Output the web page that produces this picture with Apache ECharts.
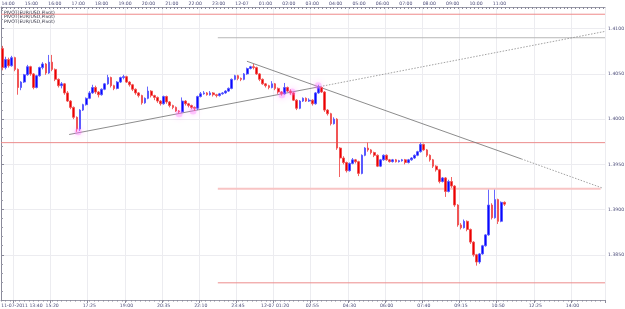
<!DOCTYPE html>
<html>
<head>
<meta charset="utf-8">
<script src="https://cdn.jsdelivr.net/npm/echarts@6/dist/echarts.min.js"></script>
<style>
html,body{margin:0;padding:0;background:#fff;}
#chart{width:625px;height:309px;}
</style>
</head>
<body>
<div id="chart"></div>
<script>
// EUR/USD M5 — 11-07-2011 13:40 .. 12-07 11:00, pivots + trendlines

var SLOTS = 195;   // category slots across the plot (empty ones on the right)

// bottom time labels, one every 12 slots starting at slot 4
var bottomLabels = ['11-07-2011 13:40','15:20','17:25','19:00','20:35','22:10','23:45',
  '12-07 01:20','02:55','04:30','06:00','07:40','09:15','10:50','12:25','14:00'];

// top hour scale (hours from 11-07 00:00)
var topHours = [14,15,16,17,18,19,20,21,22,23,24,25,26,27,28,29,30,31,32,33,34,35];

// [open, close, low, high]
var candles = [
  [1.4078,1.4057,1.4054,1.4081],[1.4057,1.4066,1.4055,1.4069],[1.4066,1.4059,1.4057,1.4068],[1.4059,1.4068,1.4058,1.4070],
  [1.4068,1.4055,1.4053,1.4069],[1.4055,1.4035,1.4027,1.4056],[1.4035,1.4041,1.4032,1.4042],[1.4041,1.4049,1.4040,1.4050],
  [1.4049,1.4058,1.4048,1.4060],[1.4058,1.4050,1.4048,1.4059],[1.4050,1.4035,1.4033,1.4051],[1.4035,1.4048,1.4034,1.4049],
  [1.4048,1.4057,1.4047,1.4058],[1.4057,1.4061,1.4055,1.4063],[1.4061,1.4051,1.4049,1.4062],[1.4051,1.4063,1.4050,1.4071],
  [1.4063,1.4055,1.4053,1.4071],[1.4055,1.4044,1.4042,1.4056],[1.4044,1.4037,1.4035,1.4045],[1.4037,1.4039,1.4034,1.4041],
  [1.4039,1.4029,1.4027,1.4040],[1.4029,1.4020,1.4019,1.4031],[1.4020,1.4013,1.4011,1.4021],[1.4013,1.4002,1.4000,1.4014],
  [1.4002,1.3989,1.3986,1.4003],[1.3989,1.4010,1.3987,1.4011],[1.4010,1.4016,1.4009,1.4017],[1.4016,1.4023,1.4015,1.4024],
  [1.4023,1.4029,1.4022,1.4031],[1.4029,1.4035,1.4028,1.4038],[1.4035,1.4030,1.4028,1.4037],[1.4030,1.4027,1.4024,1.4031],
  [1.4027,1.4033,1.4026,1.4034],[1.4033,1.4039,1.4032,1.4040],[1.4039,1.4046,1.4038,1.4049],[1.4046,1.4037,1.4035,1.4047],
  [1.4037,1.4034,1.4032,1.4038],[1.4034,1.4041,1.4033,1.4042],[1.4041,1.4046,1.4040,1.4047],[1.4046,1.4047,1.4044,1.4049],
  [1.4047,1.4041,1.4040,1.4048],[1.4041,1.4038,1.4036,1.4042],[1.4038,1.4033,1.4031,1.4039],[1.4033,1.4029,1.4027,1.4034],
  [1.4029,1.4026,1.4024,1.4030],[1.4026,1.4018,1.4016,1.4027],[1.4018,1.4023,1.4017,1.4024],[1.4023,1.4031,1.4022,1.4036],
  [1.4031,1.4026,1.4024,1.4032],[1.4026,1.4024,1.4021,1.4027],[1.4024,1.4020,1.4018,1.4025],[1.4020,1.4017,1.4015,1.4021],
  [1.4017,1.4025,1.4016,1.4026],[1.4025,1.4019,1.4017,1.4026],[1.4019,1.4015,1.4013,1.4020],[1.4015,1.4013,1.4011,1.4016],
  [1.4013,1.4009,1.4008,1.4014],[1.4009,1.4008,1.4006,1.4010],[1.4008,1.4020,1.4007,1.4024],[1.4020,1.4017,1.4015,1.4021],
  [1.4017,1.4015,1.4013,1.4018],[1.4015,1.4013,1.4011,1.4016],[1.4013,1.4012,1.4009,1.4014],[1.4012,1.4025,1.4010,1.4026],
  [1.4025,1.4028,1.4024,1.4030],[1.4028,1.4029,1.4027,1.4031],[1.4029,1.4027,1.4026,1.4030],[1.4027,1.4029,1.4026,1.4031],
  [1.4029,1.4027,1.4025,1.4030],[1.4027,1.4026,1.4024,1.4028],[1.4026,1.4028,1.4025,1.4029],[1.4028,1.4029,1.4027,1.4030],
  [1.4029,1.4031,1.4028,1.4032],[1.4031,1.4034,1.4030,1.4035],[1.4034,1.4044,1.4033,1.4045],[1.4044,1.4048,1.4043,1.4049],
  [1.4048,1.4045,1.4043,1.4049],[1.4045,1.4044,1.4042,1.4046],[1.4044,1.4050,1.4043,1.4051],[1.4050,1.4056,1.4049,1.4057],
  [1.4056,1.4058,1.4055,1.4059],[1.4058,1.4057,1.4055,1.4061],[1.4057,1.4050,1.4049,1.4058],[1.4050,1.4044,1.4042,1.4051],
  [1.4044,1.4039,1.4038,1.4045],[1.4039,1.4037,1.4035,1.4040],[1.4037,1.4035,1.4033,1.4038],[1.4035,1.4039,1.4034,1.4042],
  [1.4039,1.4034,1.4032,1.4040],[1.4034,1.4030,1.4028,1.4035],[1.4030,1.4028,1.4026,1.4031],[1.4028,1.4035,1.4027,1.4040],
  [1.4035,1.4031,1.4030,1.4036],[1.4031,1.4029,1.4027,1.4033],[1.4029,1.4021,1.4020,1.4030],[1.4021,1.4012,1.4010,1.4022],
  [1.4012,1.4020,1.4011,1.4021],[1.4020,1.4023,1.4019,1.4024],[1.4023,1.4020,1.4019,1.4024],[1.4020,1.4021,1.4019,1.4023],
  [1.4021,1.4017,1.4015,1.4022],[1.4017,1.4029,1.4016,1.4030],[1.4029,1.4035,1.4028,1.4038],[1.4035,1.4030,1.4029,1.4036],
  [1.4030,1.4010,1.4008,1.4031],[1.4010,1.4006,1.4004,1.4011],[1.4006,1.3995,1.3993,1.4007],[1.3995,1.4000,1.3994,1.4002],
  [1.4000,1.3968,1.3966,1.4001],[1.3968,1.3957,1.3936,1.3969],[1.3957,1.3952,1.3950,1.3959],[1.3952,1.3943,1.3941,1.3953],
  [1.3943,1.3951,1.3942,1.3952],[1.3951,1.3955,1.3950,1.3957],[1.3955,1.3953,1.3951,1.3956],[1.3953,1.3940,1.3937,1.3954],
  [1.3940,1.3960,1.3939,1.3961],[1.3960,1.3968,1.3959,1.3969],[1.3968,1.3966,1.3964,1.3974],[1.3966,1.3963,1.3961,1.3967],
  [1.3963,1.3960,1.3958,1.3964],[1.3960,1.3948,1.3947,1.3961],[1.3948,1.3955,1.3947,1.3956],[1.3955,1.3960,1.3954,1.3961],
  [1.3960,1.3955,1.3954,1.3961],[1.3955,1.3953,1.3952,1.3956],[1.3953,1.3955,1.3952,1.3956],[1.3955,1.3953,1.3952,1.3956],
  [1.3953,1.3954,1.3952,1.3955],[1.3954,1.3955,1.3953,1.3956],[1.3955,1.3952,1.3950,1.3956],[1.3952,1.3955,1.3951,1.3956],
  [1.3955,1.3957,1.3954,1.3958],[1.3957,1.3960,1.3956,1.3961],[1.3960,1.3964,1.3959,1.3965],[1.3964,1.3972,1.3963,1.3974],
  [1.3972,1.3966,1.3965,1.3973],[1.3966,1.3960,1.3958,1.3967],[1.3960,1.3955,1.3953,1.3961],[1.3955,1.3948,1.3946,1.3956],
  [1.3948,1.3944,1.3942,1.3949],[1.3944,1.3931,1.3929,1.3945],[1.3931,1.3935,1.3930,1.3936],[1.3935,1.3920,1.3914,1.3936],
  [1.3920,1.3931,1.3919,1.3933],[1.3931,1.3926,1.3924,1.3936],[1.3926,1.3905,1.3903,1.3927],[1.3905,1.3883,1.3881,1.3906],
  [1.3883,1.3880,1.3878,1.3885],[1.3880,1.3887,1.3879,1.3889],[1.3887,1.3878,1.3876,1.3888],[1.3878,1.3864,1.3862,1.3879],
  [1.3864,1.3850,1.3848,1.3865],[1.3850,1.3842,1.3838,1.3851],[1.3842,1.3851,1.3840,1.3852],[1.3851,1.3860,1.3850,1.3861],
  [1.3860,1.3872,1.3859,1.3873],[1.3872,1.3905,1.3871,1.3922],[1.3905,1.3891,1.3889,1.3907],[1.3891,1.3911,1.3890,1.3922],
  [1.3911,1.3887,1.3884,1.3912],[1.3887,1.3908,1.3886,1.3909],[1.3908,1.3906,1.3904,1.3909]
];

// pivot levels and the slot range each one covers
var levels    = [1.4116, 1.4090, 1.3974, 1.3923, 1.3819];
var levelFrom = [0, 70, 0, 70, 70];
var levelTo   = [195, 195, 195, 193.6, 195];

// trendlines in [slot, price]; last segment is the dotted extension
var trendUp   = [[22.0,1.3983],[103.0,1.4036],[195.0,1.4097]];
var trendDown = [[79.4,1.4064],[168.0,1.3956],[194.0,1.3924]];

// highlighted touch points
var touches = [[24.9,1.3986],[57.5,1.4006],[62.0,1.4009],[90.7,1.4027],[94.0,1.4030],[102.4,1.4037]];

var legendLines = ['PIVOT(EUR/USD,Pivot)','PIVOT(EUR/USD,Pivot)','PIVOT(EUR/USD,Pivot)'];

var cats = [];
for (var i = 0; i < SLOTS; i++) cats.push(String(i));
var topTicks = [];
for (var t = 13.75; t <= 39.5; t += 1/6) topTicks.push(t);

function hourLabel(h){
  if (h === 24) return '12-07';
  var hh = h % 24;
  return (hh < 10 ? '0' : '') + hh + ':00';
}
function isMajor(idx){ return idx >= 4 && (idx - 4) % 12 === 0; }

var lvlStyle = [
  {color:'#ef8a8a', width:1},
  {color:'#b8b8b8', width:1},
  {color:'#ec8c8c', width:1},
  {color:'#f8c4c4', width:2},
  {color:'#ec8c8c', width:1}
];

var lastClose = candles[candles.length-1][1];
var FS = 4.6, TXT = '#4b4b78';

var series = [{
  type:'candlestick', xAxisIndex:0, yAxisIndex:0,
  data:candles, barWidth:2.2,
  itemStyle:{color:'#0808ff', color0:'#ec0000', borderColor:'#5656ff', borderColor0:'#f05050', borderWidth:0.9},
  markLine:{
    silent:true, symbol:['none','none'],
    lineStyle:{opacity:0},
    label:{position:'end', distance:2, formatter:lastClose.toFixed(4), color:'#000', fontSize:FS,
      backgroundColor:'#ff00ff', padding:[1,2,0,2]},
    data:[{yAxis:lastClose}]
  },
  z:5
}];

levels.forEach(function(v, i){
  series.push({
    type:'line', xAxisIndex:1, yAxisIndex:0, symbol:'none', silent:true,
    data:[[levelFrom[i], v],[levelTo[i], v]],
    lineStyle:lvlStyle[i], z:3
  });
});

[trendUp, trendDown].forEach(function(tl){
  series.push({type:'line', xAxisIndex:1, yAxisIndex:0, symbol:'none', silent:true,
    data:[tl[0], tl[1]], lineStyle:{color:'#6e6e6e', width:0.8}, z:4});
  series.push({type:'line', xAxisIndex:1, yAxisIndex:0, symbol:'none', silent:true,
    data:[tl[1], tl[2]], lineStyle:{color:'#8a8a8a', width:0.8, type:[1.5,1.5]}, z:4});
});

series.push({
  type:'scatter', xAxisIndex:1, yAxisIndex:0, data:touches, symbolSize:7, silent:true,
  itemStyle:{color:'rgba(255,110,255,0.4)', shadowBlur:6, shadowColor:'rgba(255,80,255,0.9)'}, z:6
});

var chart = echarts.init(document.getElementById('chart'), null, {renderer:'canvas'});
chart.setOption({
  animation:false,
  backgroundColor:'#ffffff',
  grid:{left:1, right:20, top:7, bottom:9, containLabel:false, outerBoundsMode:'none'},
  xAxis:[{
    type:'category', data:cats, boundaryGap:true, position:'bottom',
    axisLine:{show:true, lineStyle:{color:'#9a9aa8', width:1}},
    axisTick:{show:true, length:3, interval:isMajor, lineStyle:{color:'#8a8a9a'}},
    axisLabel:{show:true, interval:isMajor,
      formatter:function(v, idx){
        var n = (idx - 4) / 12;
        if (n === 0) return '{first|' + bottomLabels[0] + '}';
        return bottomLabels[n] || '';
      },
      rich:{first:{fontSize:FS, color:TXT, fontFamily:'DejaVu Sans', padding:[0,0,0,14]}},
      fontSize:FS, color:TXT, margin:3, fontFamily:'DejaVu Sans'},
    splitLine:{show:true, interval:isMajor, lineStyle:{color:'#ececf0', width:1}}
  },{
    type:'value', min:0, max:SLOTS, position:'bottom', interval:1.5,
    axisLine:{show:false}, axisLabel:{show:false}, splitLine:{show:false},
    axisTick:{show:true, length:1.5, lineStyle:{color:'#8a8a9a'}}
  },{
    type:'value', min:13.70, max:39.51, position:'top',
    axisLine:{show:true, lineStyle:{color:'#9a9aa8', width:1}},
    axisTick:{show:true, length:2, inside:true, customValues:topTicks, lineStyle:{color:'#8a8a9a'}},
    axisLabel:{show:true, customValues:topHours, formatter:function(v){return hourLabel(Math.round(v));},
      fontSize:FS, color:TXT, margin:1, fontFamily:'DejaVu Sans'},
    splitLine:{show:false}
  }],
  yAxis:[{
    type:'value', position:'right', min:1.3800, max:1.4124, interval:0.005,
    axisLine:{show:true, lineStyle:{color:'#8a8a9a', width:1}},
    axisTick:{show:true, length:3, lineStyle:{color:'#8a8a9a'}},
    minorTick:{show:true, splitNumber:5, length:2, lineStyle:{color:'#9a9aa8'}},
    axisLabel:{show:true, showMinLabel:false, showMaxLabel:false, formatter:function(v){return v.toFixed(4);},
      fontSize:FS, color:TXT, margin:3, fontFamily:'DejaVu Sans'},
    splitLine:{show:true, lineStyle:{color:'#ececf0', width:1}}
  }],
  graphic:legendLines.map(function(s, i){
    return {type:'text', left:4, top:10 + i*4.4, z:10, silent:true,
      style:{text:s, fontSize:FS, fill:'#333344', fontFamily:'DejaVu Sans'}};
  }),
  series:series
});
</script>
</body>
</html>
